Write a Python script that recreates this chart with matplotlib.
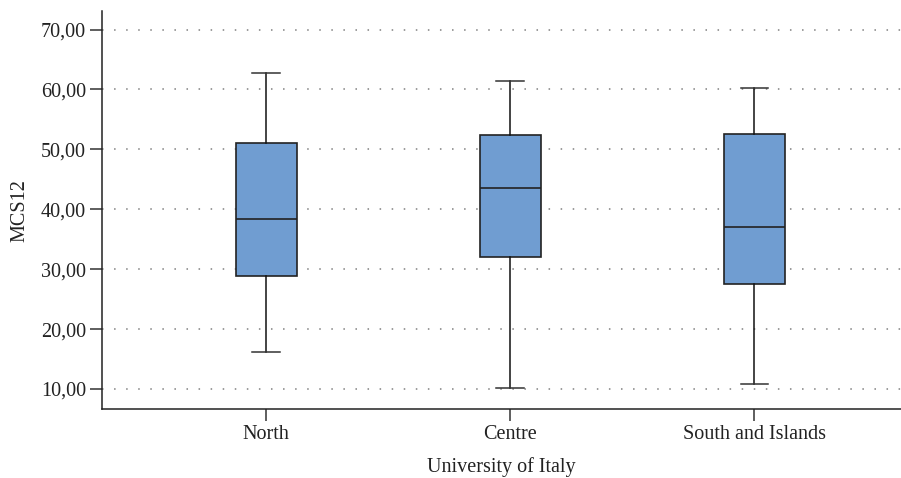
import matplotlib.pyplot as plt
from matplotlib.ticker import FuncFormatter

# Values
regions = ["North", "Centre", "South and Islands"]
whisker_low = [16.2, 10.15, 10.85]
q1 = [28.85, 31.95, 27.6]
median = [38.3, 43.55, 37.1]
q3 = [51.05, 52.45, 52.6]
whisker_high = [62.8, 61.45, 60.2]
yticks = [10, 20, 30, 40, 50, 60, 70]

plt.rcParams["font.family"] = ["Liberation Serif", "DejaVu Serif"]

fig = plt.figure(figsize=(9.01, 4.78), dpi=100)
ax = fig.add_axes([0.1132, 0.1437, 0.8868, 0.8333])

stats = []
for i, name in enumerate(regions):
    stats.append({
        "label": name,
        "whislo": whisker_low[i],
        "q1": q1[i],
        "med": median[i],
        "q3": q3[i],
        "whishi": whisker_high[i],
        "fliers": [],
    })

ax.bxp(
    stats,
    positions=[1, 2, 3],
    widths=0.25,
    patch_artist=True,
    showfliers=False,
    boxprops=dict(facecolor="#709dd1", edgecolor="#222222", linewidth=1.2),
    medianprops=dict(color="#222222", linewidth=1.2),
    whiskerprops=dict(color="#111111", linewidth=1.1),
    capprops=dict(color="#333333", linewidth=1.1),
    capwidths=0.113,
    zorder=3,
)

# dotted horizontal grid
for y in yticks:
    ax.axhline(y, color="#808080", linewidth=1.1, linestyle=(0, (1, 6.9)), zorder=1)

ax.set_xlim(0.328, 3.6)
ax.set_ylim(6.6, 73.1)
ax.set_yticks(yticks)
ax.yaxis.set_major_formatter(FuncFormatter(lambda v, p: f"{v:.2f}".replace(".", ",")))

for side in ["top", "right"]:
    ax.spines[side].set_visible(False)
for side in ["left", "bottom"]:
    ax.spines[side].set_linewidth(1.1)
    ax.spines[side].set_color("#222222")

ax.tick_params(axis="both", length=8.5, width=1.1, color="#333333", labelsize=14.5, labelcolor="#222222")
ax.tick_params(axis="y", pad=3)
ax.tick_params(axis="x", pad=3)

ax.set_ylabel("MCS12", fontsize=14.5, color="#222222", labelpad=8)
ax.set_xlabel("University of Italy", fontsize=14.5, color="#222222", labelpad=9)

fig.savefig("out.png", dpi=100)
